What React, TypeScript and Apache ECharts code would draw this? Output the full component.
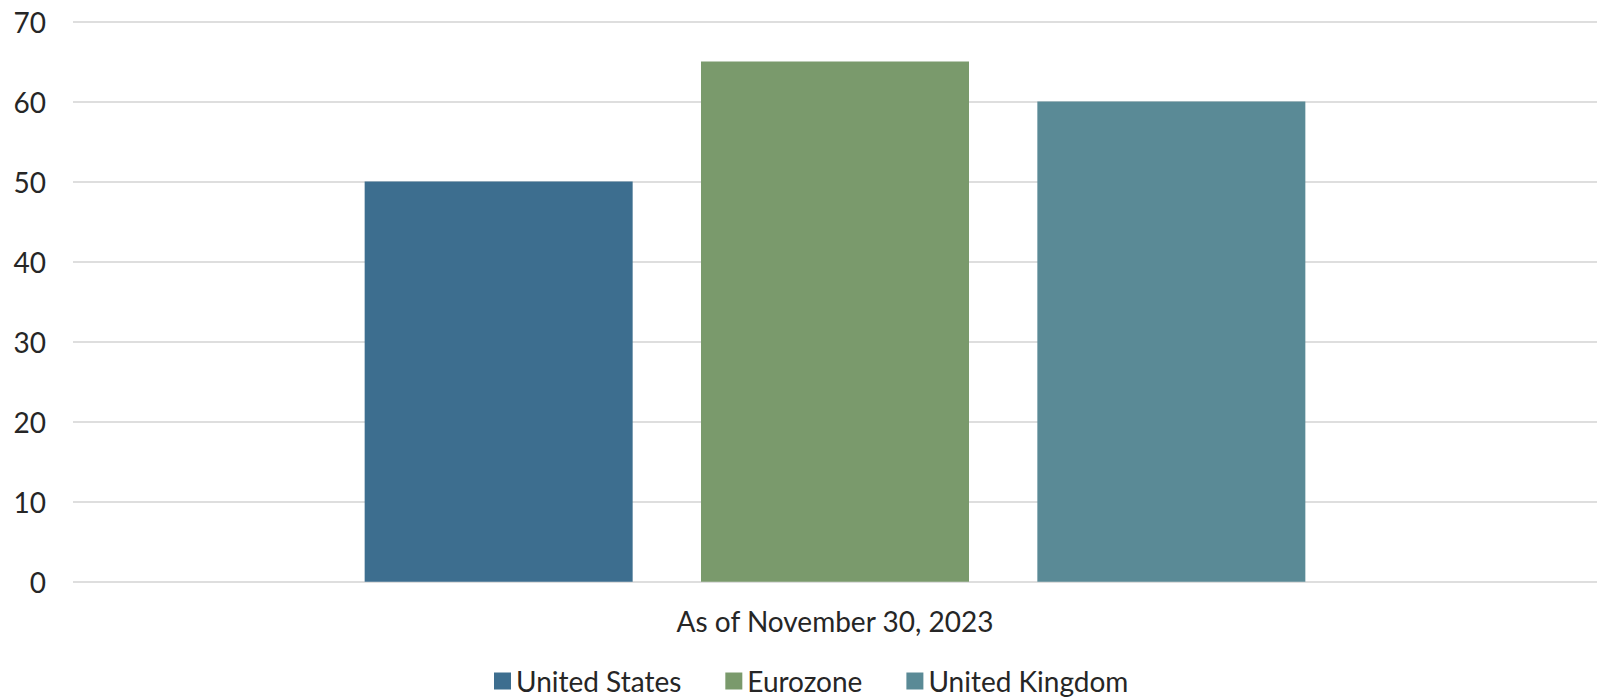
import React, { useEffect, useRef } from "react";
import * as echarts from "echarts";

const categories = ["As of November 30, 2023"];
const seriesNames = ["United States", "Eurozone", "United Kingdom"];
const seriesValues = [[50], [65], [60]];
const seriesColors = ["#3D6E8F", "#7A9A6C", "#5A8A96"];
const yTicks = { min: 0, max: 70, interval: 10 };

const FONT = "Lato";
const TEXT_COLOR = "#262626";

export default function App() {
  const ref = useRef<HTMLDivElement>(null);
  useEffect(() => {
    document.body.style.margin = "0";
    const chart = echarts.init(ref.current!, null, { renderer: "svg" });
    chart.setOption({
      animation: false,
      textStyle: { fontFamily: FONT },
      grid: { left: 73, right: 2, top: 21.5, bottom: 118.3, containLabel: false },
      legend: {
        data: seriesNames,
        top: 662,
        left: 489,
        itemWidth: 17,
        itemHeight: 17,
        itemGap: 44,
        icon: "rect",
        textStyle: { fontFamily: FONT, fontSize: 28, color: TEXT_COLOR, fontWeight: 400 },
      },
      xAxis: {
        type: "category",
        data: categories,
        axisLine: { show: false },
        axisTick: { show: false },
        axisLabel: { fontFamily: FONT, fontSize: 28, color: TEXT_COLOR, margin: 25, fontWeight: 400 },
      },
      yAxis: {
        type: "value",
        min: yTicks.min,
        max: yTicks.max,
        interval: yTicks.interval,
        axisLine: { show: false },
        axisTick: { show: false },
        axisLabel: { fontFamily: FONT, fontSize: 28, color: TEXT_COLOR, margin: 27, fontWeight: 400 },
        splitLine: { lineStyle: { color: "#DEDEDE", width: 2 } },
      },
      series: seriesNames.map((name, i) => ({
        name,
        type: "bar",
        data: seriesValues[i],
        barWidth: 268,
        barGap: "25.5%",
        itemStyle: { color: seriesColors[i] },
      })),
    });
    return () => chart.dispose();
  }, []);
  return (
    <div
      ref={ref}
      style={{ position: "absolute", left: 0, top: 0, width: 1599, height: 700, background: "#fff" }}
    />
  );
}
